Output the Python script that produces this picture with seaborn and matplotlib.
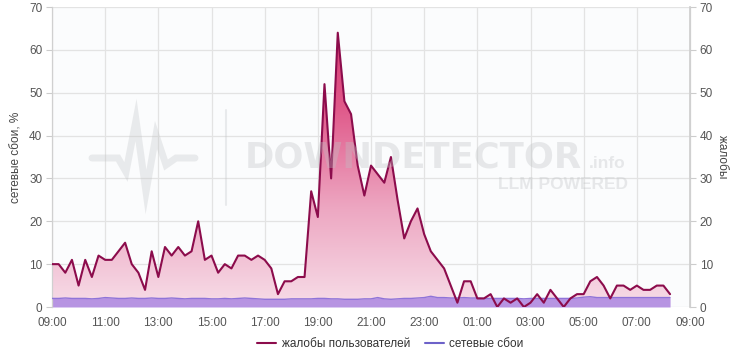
import numpy as np
import pandas as pd
import matplotlib
matplotlib.use("Agg")
import matplotlib.pyplot as plt
import matplotlib.dates as mdates
from matplotlib.colors import LinearSegmentedColormap
from matplotlib.lines import Line2D
import seaborn as sns

# ---------------- data ----------------
start_time = "2024-01-01 09:00"
step = "15min"
complaints = [10, 10, 8, 11, 5, 11, 7, 12, 11, 11, 13, 15, 10, 8, 4, 13,
              7, 14, 12, 14, 12, 13, 20, 11, 12, 8, 10, 9, 12, 12, 11, 12,
              11, 9, 3, 6, 6, 7, 7, 27, 21, 52, 30, 64, 48, 45, 33, 26,
              33, 31, 29, 35, 25, 16, 20, 23, 17, 13, 11, 9, 5, 1, 6, 6,
              2, 2, 3, 0, 2, 1, 2, 0, 1, 3, 1, 4, 2, 0, 2, 3,
              3, 6, 7, 5, 2, 5, 5, 4, 5, 4, 4, 5, 5, 3]
outages = [2.0, 2.0, 2.1, 2.0, 2.0, 2.0, 1.9, 2.0, 2.2, 2.1, 2.0, 2.0, 2.1, 2.0, 2.0, 2.1,
           2.0, 2.0, 2.1, 2.0, 1.9, 2.0, 2.0, 2.0, 1.9, 1.9, 2.0, 1.9, 2.0, 2.1, 2.0, 1.9,
           1.8, 1.8, 1.8, 1.8, 1.9, 1.9, 1.9, 1.9, 2.0, 2.0, 1.9, 1.9, 1.8, 1.8, 1.8, 1.9,
           1.9, 2.2, 1.9, 1.8, 1.9, 2.0, 2.0, 2.1, 2.2, 2.5, 2.2, 2.2, 2.1, 2.1, 2.2, 2.1,
           2.1, 2.0, 2.0, 2.0, 2.0, 2.0, 2.0, 1.9, 2.0, 2.0, 2.0, 2.0, 2.0, 2.0, 2.0, 2.1,
           2.3, 2.4, 2.2, 2.2, 2.2, 2.2, 2.2, 2.2, 2.2, 2.2, 2.2, 2.2, 2.2, 2.2]
y_ticks = [0, 10, 20, 30, 40, 50, 60, 70]
left_label = "сетевые сбои, %"
right_label = "жалобы"
series_names = ["жалобы пользователей", "сетевые сбои"]

times = pd.date_range(start_time, periods=len(complaints), freq=step)
df = pd.DataFrame({"time": times, "complaints": complaints, "outages": outages})

# ---------------- style ----------------
sns.set_theme(style="white")
plt.rcParams["font.family"] = ["Liberation Sans", "DejaVu Sans"]

LINE_RED = "#8c0c4c"
LINE_PURPLE = "#8f74d8"
FILL_PURPLE = "#b490e2"
LEGEND_PURPLE = "#6d62c9"
GRID = "#e3e3e3"
TXT = "#555555"

fig = plt.figure(figsize=(7.30, 3.52), dpi=100)
fig.patch.set_facecolor("white")
fig.patches.append(plt.Rectangle((52 / 730, 1 - 307 / 352), 638 / 730, 300 / 352,
                                 transform=fig.transFigure, facecolor="#fbfcfd",
                                 edgecolor="none", zorder=-1))

ax = fig.add_axes([52 / 730, 1 - 307 / 352, (690 - 52) / 730, 300 / 352])
ax.patch.set_alpha(0.0)

x0 = pd.Timestamp(start_time)
x1 = x0 + pd.Timedelta(hours=24)
ax.set_xlim(x0, x1)
ax.set_ylim(0, 70)

# gradient fill for complaints
fill = ax.fill_between(df["time"], 0, df["complaints"], facecolor="none",
                       edgecolor="none", zorder=1)
cmap = LinearSegmentedColormap.from_list("pinkgrad", ["#f7dde8", "#eda6c1", "#e0598a", "#d3306b"])
grad = np.linspace(0, 1, 256).reshape(-1, 1)
img = ax.imshow(grad, cmap=cmap, aspect="auto", origin="lower",
                extent=[mdates.date2num(x0), mdates.date2num(x1), 0, 70],
                zorder=1, interpolation="bicubic")
img.set_clip_path(fill.get_paths()[0], transform=ax.transData)

# outages fill
ax.fill_between(df["time"], 0, df["outages"], color=FILL_PURPLE, alpha=0.95,
                linewidth=0, zorder=2)
sns.lineplot(data=df, x="time", y="outages", ax=ax, color=LINE_PURPLE,
             linewidth=1.0, zorder=3)
sns.lineplot(data=df, x="time", y="complaints", ax=ax, color=LINE_RED,
             linewidth=1.5, zorder=4)

ax.set_xlim(x0, x1)
ax.set_ylim(0, 70)
ax.set_yticks(y_ticks)
ax.xaxis.set_major_locator(mdates.HourLocator(byhour=range(1, 24, 2)))
ax.xaxis.set_major_formatter(mdates.DateFormatter("%H:%M"))
ax.grid(True, color=GRID, linewidth=0.9)
ax.set_axisbelow(True)
ax.set_xlabel("")
ax.set_ylabel(left_label, fontsize=8.5, color="#444444", labelpad=5)
ax.tick_params(axis="both", labelsize=8.5, colors=TXT, length=4, width=0.8,
               color="#cccccc", pad=3)
for side in ["top", "bottom"]:
    ax.spines[side].set_visible(False)
for side in ["left", "right"]:
    ax.spines[side].set_color("#d0d0d0")
    ax.spines[side].set_linewidth(0.9)

ax2 = ax.twinx()
ax2.set_ylim(0, 70)
ax2.set_yticks(y_ticks)
ax2.tick_params(axis="y", labelsize=8.5, colors=TXT, length=4, width=0.8,
                color="#cccccc", pad=3)
ax2.set_ylabel(right_label, rotation=270, fontsize=8.5, color="#444444", labelpad=11)
for side in ["top", "bottom", "left"]:
    ax2.spines[side].set_visible(False)
ax2.spines["right"].set_color("#d0d0d0")

# watermark, semi-transparent over the plot
wm = "#bfc2c5"
wa = 0.35
fig.text(413 / 730, 1 - 157 / 352, "DOWNDETECTOR", fontsize=25.5, fontweight="bold",
         color=wm, alpha=wa, ha="center", va="center", zorder=10, family=["DejaVu Sans"])
fig.text(589 / 730, 1 - 163 / 352, ".info", fontsize=12.5, fontweight="bold",
         color=wm, alpha=wa, ha="left", va="center", zorder=10)
fig.text(628 / 730, 1 - 185 / 352, "LLM POWERED", fontsize=12.5, fontweight="bold",
         color=wm, alpha=wa, ha="right", va="center", zorder=10)
hb_x = np.array([92, 118, 126, 136, 146, 156, 166, 176, 195]) / 730
hb_y = 1 - np.array([158, 158, 172, 120, 192, 135, 165, 158, 158]) / 352
fig.add_artist(Line2D(hb_x, hb_y, transform=fig.transFigure, color=wm, alpha=0.3,
                      linewidth=5, solid_joinstyle="miter", zorder=10))
fig.add_artist(Line2D([226 / 730, 226 / 730], [1 - 110 / 352, 1 - 205 / 352],
                      transform=fig.transFigure, color=wm, alpha=0.3, linewidth=1.5,
                      zorder=10))

# legend
handles = [Line2D([0], [0], color=LINE_RED, linewidth=1.5),
           Line2D([0], [0], color=LEGEND_PURPLE, linewidth=1.5)]
fig.legend(handles, series_names, loc="lower center", bbox_to_anchor=(0.535, -0.025),
           ncol=2, frameon=False, fontsize=8.5, handlelength=1.6,
           handletextpad=0.5, columnspacing=1.2, labelcolor="#333333")

fig.savefig("out.png", dpi=100, facecolor="white")
